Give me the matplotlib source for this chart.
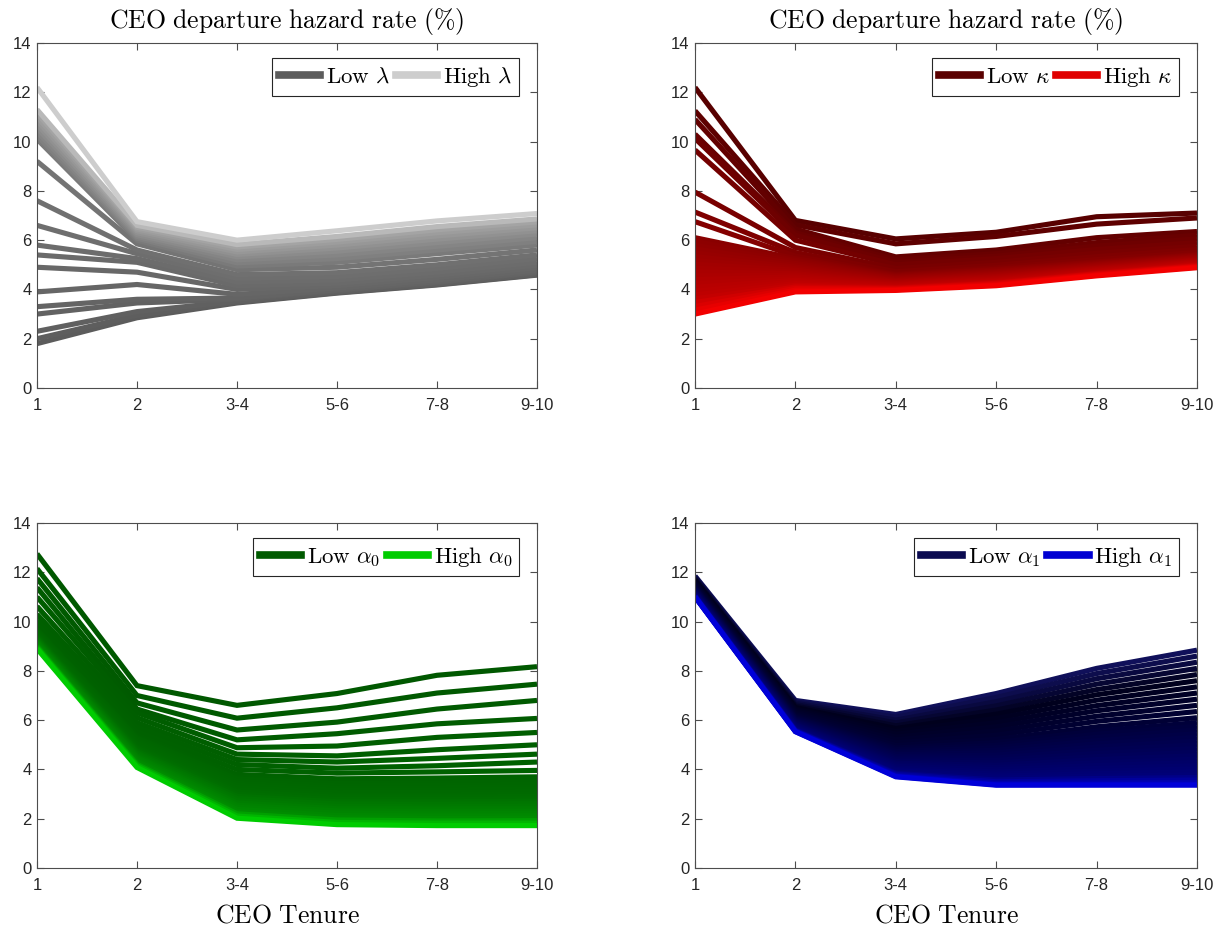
import matplotlib
matplotlib.use("Agg")
import matplotlib.pyplot as plt
from matplotlib.lines import Line2D
import numpy as np

plt.rcParams["mathtext.fontset"] = "cm"
plt.rcParams["font.family"] = ["Liberation Sans", "DejaVu Sans"]

# Tenure buckets on the horizontal axis
tenure_labels = ["1", "2", "3-4", "5-6", "7-8", "9-10"]

# Hazard-rate curves (%), one row per parameter value, ordered low -> high
hazard_lambda = [
    [1.80, 2.85, 3.45, 3.85, 4.18, 4.58],
    [2.00, 2.95, 3.48, 3.87, 4.20, 4.60],
    [2.30, 3.10, 3.52, 3.90, 4.23, 4.63],
    [3.00, 3.45, 3.60, 3.95, 4.28, 4.68],
    [3.30, 3.60, 3.65, 3.98, 4.31, 4.71],
    [3.90, 4.20, 3.80, 4.05, 4.38, 4.78],
    [4.90, 4.70, 4.00, 4.15, 4.48, 4.88],
    [5.40, 5.10, 4.15, 4.25, 4.58, 4.98],
    [5.80, 5.25, 4.30, 4.38, 4.70, 5.10],
    [6.60, 5.45, 4.45, 4.52, 4.85, 5.25],
    [7.60, 5.60, 4.60, 4.68, 5.00, 5.40],
    [9.20, 5.85, 4.80, 4.90, 5.22, 5.60],
    [10.10, 6.00, 4.95, 5.10, 5.45, 5.80],
    [10.25, 6.08, 5.08, 5.25, 5.60, 5.95],
    [10.40, 6.15, 5.20, 5.40, 5.75, 6.10],
    [10.55, 6.22, 5.32, 5.55, 5.90, 6.25],
    [10.70, 6.30, 5.42, 5.68, 6.04, 6.38],
    [10.85, 6.38, 5.52, 5.80, 6.17, 6.50],
    [11.00, 6.45, 5.62, 5.92, 6.30, 6.62],
    [11.15, 6.52, 5.72, 6.03, 6.42, 6.74],
    [11.30, 6.60, 5.82, 6.15, 6.55, 6.86],
    [12.20, 6.75, 6.00, 6.38, 6.78, 7.08],
]

hazard_kappa = [
    [12.20, 6.80, 6.05, 6.32, 6.95, 7.10],
    [11.25, 6.62, 5.85, 6.15, 6.65, 6.90],
    [10.90, 6.45, 5.32, 5.60, 6.10, 6.35],
    [10.30, 6.30, 5.20, 5.45, 5.90, 6.20],
    [10.13, 6.20, 5.10, 5.35, 5.76, 6.05],
    [9.66, 6.00, 5.00, 5.25, 5.62, 5.90],
    [7.95, 5.70, 4.85, 5.10, 5.47, 5.75],
    [7.14, 5.50, 4.72, 4.98, 5.33, 5.62],
    [6.75, 5.35, 4.62, 4.88, 5.21, 5.50],
    [6.10, 5.25, 4.58, 4.82, 5.12, 5.42],
    [5.95, 5.18, 4.55, 4.79, 5.09, 5.39],
    [5.79, 5.12, 4.52, 4.75, 5.06, 5.37],
    [5.64, 5.05, 4.49, 4.72, 5.03, 5.34],
    [5.48, 4.98, 4.46, 4.69, 5.01, 5.31],
    [5.33, 4.91, 4.43, 4.65, 4.98, 5.29],
    [5.17, 4.85, 4.39, 4.62, 4.95, 5.26],
    [5.02, 4.78, 4.36, 4.59, 4.92, 5.23],
    [4.86, 4.71, 4.33, 4.55, 4.89, 5.20],
    [4.71, 4.64, 4.30, 4.52, 4.86, 5.18],
    [4.55, 4.58, 4.27, 4.49, 4.84, 5.15],
    [4.40, 4.51, 4.24, 4.45, 4.81, 5.12],
    [4.24, 4.44, 4.21, 4.42, 4.78, 5.10],
    [4.09, 4.37, 4.18, 4.38, 4.75, 5.07],
    [3.93, 4.31, 4.15, 4.35, 4.72, 5.04],
    [3.78, 4.24, 4.11, 4.32, 4.69, 5.02],
    [3.62, 4.17, 4.08, 4.28, 4.66, 4.99],
    [3.47, 4.10, 4.05, 4.25, 4.64, 4.96],
    [3.31, 4.04, 4.02, 4.22, 4.61, 4.93],
    [3.16, 3.97, 3.99, 4.18, 4.58, 4.91],
    [3.00, 3.90, 3.96, 4.15, 4.55, 4.88],
]

hazard_alpha0 = [
    [12.75, 7.40, 6.60, 7.08, 7.82, 8.17],
    [12.15, 7.00, 6.08, 6.50, 7.10, 7.46],
    [11.75, 6.70, 5.60, 5.92, 6.45, 6.80],
    [11.38, 6.45, 5.20, 5.45, 5.85, 6.07],
    [11.00, 6.30, 4.88, 4.95, 5.30, 5.50],
    [10.62, 6.10, 4.62, 4.55, 4.80, 5.00],
    [10.30, 5.90, 4.40, 4.30, 4.45, 4.62],
    [10.05, 5.72, 4.20, 4.05, 4.15, 4.30],
    [9.90, 5.55, 4.00, 3.85, 3.90, 3.96],
    [9.75, 5.40, 3.80, 3.62, 3.65, 3.70],
    [9.71, 5.33, 3.71, 3.53, 3.55, 3.60],
    [9.67, 5.27, 3.62, 3.43, 3.46, 3.50],
    [9.62, 5.20, 3.53, 3.34, 3.36, 3.40],
    [9.58, 5.14, 3.44, 3.25, 3.26, 3.30],
    [9.54, 5.07, 3.36, 3.16, 3.17, 3.21],
    [9.50, 5.00, 3.27, 3.06, 3.07, 3.11],
    [9.45, 4.94, 3.18, 2.97, 2.97, 3.01],
    [9.41, 4.87, 3.09, 2.88, 2.88, 2.91],
    [9.37, 4.81, 3.00, 2.78, 2.78, 2.81],
    [9.33, 4.74, 2.91, 2.69, 2.69, 2.71],
    [9.28, 4.67, 2.82, 2.60, 2.59, 2.61],
    [9.24, 4.61, 2.73, 2.50, 2.49, 2.51],
    [9.20, 4.54, 2.64, 2.41, 2.40, 2.41],
    [9.16, 4.48, 2.55, 2.32, 2.30, 2.31],
    [9.11, 4.41, 2.47, 2.23, 2.20, 2.22],
    [9.07, 4.34, 2.38, 2.13, 2.11, 2.12],
    [9.03, 4.28, 2.29, 2.04, 2.01, 2.02],
    [8.99, 4.21, 2.20, 1.95, 1.91, 1.92],
    [8.94, 4.15, 2.11, 1.85, 1.82, 1.82],
    [8.90, 4.08, 2.02, 1.76, 1.72, 1.72],
]

hazard_alpha1 = [
    [11.85, 6.80, 6.23, 7.08, 8.10, 8.84],
    [11.81, 6.74, 6.12, 6.92, 7.89, 8.60],
    [11.77, 6.69, 6.00, 6.75, 7.68, 8.35],
    [11.74, 6.63, 5.89, 6.58, 7.46, 8.10],
    [11.70, 6.57, 5.77, 6.41, 7.24, 7.85],
    [11.66, 6.51, 5.66, 6.24, 7.03, 7.60],
    [11.62, 6.45, 5.54, 6.07, 6.81, 7.35],
    [11.58, 6.40, 5.43, 5.90, 6.59, 7.10],
    [11.54, 6.34, 5.31, 5.73, 6.38, 6.85],
    [11.50, 6.28, 5.20, 5.56, 6.16, 6.60],
    [11.46, 6.22, 5.08, 5.39, 5.95, 6.35],
    [11.43, 6.17, 4.97, 5.22, 5.73, 6.10],
    [11.39, 6.12, 4.87, 5.09, 5.56, 5.90],
    [11.37, 6.08, 4.80, 4.98, 5.43, 5.75],
    [11.35, 6.05, 4.73, 4.88, 5.30, 5.60],
    [11.32, 6.01, 4.66, 4.78, 5.17, 5.45],
    [11.30, 5.98, 4.60, 4.68, 5.04, 5.30],
    [11.28, 5.95, 4.53, 4.58, 4.91, 5.15],
    [11.25, 5.91, 4.46, 4.47, 4.78, 5.00],
    [11.23, 5.88, 4.39, 4.37, 4.65, 4.85],
    [11.21, 5.84, 4.32, 4.27, 4.52, 4.70],
    [11.19, 5.81, 4.25, 4.17, 4.40, 4.56],
    [11.16, 5.78, 4.19, 4.08, 4.27, 4.42],
    [11.14, 5.74, 4.13, 3.99, 4.16, 4.28],
    [11.12, 5.71, 4.06, 3.90, 4.04, 4.15],
    [11.10, 5.68, 4.00, 3.81, 3.93, 4.02],
    [11.08, 5.66, 3.95, 3.73, 3.83, 3.90],
    [11.07, 5.63, 3.89, 3.65, 3.73, 3.78],
    [11.05, 5.60, 3.84, 3.57, 3.63, 3.67],
    [11.03, 5.58, 3.80, 3.50, 3.54, 3.57],
    [11.02, 5.56, 3.75, 3.43, 3.45, 3.47],
    [11.01, 5.54, 3.72, 3.38, 3.39, 3.40],
    [11.00, 5.53, 3.70, 3.36, 3.36, 3.36],
]

param_names = [r"\lambda", r"\kappa", r"\alpha_0", r"\alpha_1"]

# Legend end colours and the ramp used across each family of curves
panels = [
    dict(data=hazard_lambda, low="#5c5c5c", high="#cdcdcd",
         ramp=[(0.0, "#5c5c5c"), (0.5, "#717171"), (0.9, "#a2a2a2"), (1.0, "#cdcdcd")]),
    dict(data=hazard_kappa, low="#5a0000", high="#e00000",
         ramp=[(0.0, "#580000"), (0.3, "#880000"), (0.85, "#c00000"), (1.0, "#f20000")]),
    dict(data=hazard_alpha0, low="#005a00", high="#00cc00",
         ramp=[(0.0, "#005800"), (0.6, "#006c00"), (0.9, "#008c00"), (1.0, "#00cc00")]),
    dict(data=hazard_alpha1, low="#0a0a50", high="#0000d2",
         ramp=[(0.0, "#10105a"), (0.15, "#00001c"), (0.85, "#000078"), (1.0, "#0000d8")]),
]

W, H = 1226, 934
fig = plt.figure(figsize=(W / 100, H / 100), dpi=100)

col_left = [37, 695]
col_width = [500, 502]
row_top = [43, 523]
ax_h = 345

text_color = "#262626"
spine_color = "#4d4d4d"


def hex_rgb(h):
    h = h.lstrip("#")
    return np.array([int(h[i:i + 2], 16) / 255 for i in (0, 2, 4)])


def ramp_color(ramp, t):
    for (t0, c0), (t1, c1) in zip(ramp[:-1], ramp[1:]):
        if t <= t1:
            s = (t - t0) / (t1 - t0)
            a, b = hex_rgb(c0), hex_rgb(c1)
            return tuple(a + (b - a) * s)
    return tuple(hex_rgb(ramp[-1][1]))


x = np.arange(len(tenure_labels))

for k, spec in enumerate(panels):
    r, c = divmod(k, 2)
    left = col_left[c] / W
    bottom = 1 - (row_top[r] + ax_h) / H
    ax = fig.add_axes([left, bottom, col_width[c] / W, ax_h / H])

    curves = spec["data"]
    n = len(curves)
    for i, yv in enumerate(curves):
        ax.plot(x, yv, color=ramp_color(spec["ramp"], i / (n - 1)),
                lw=3.7, solid_joinstyle="miter", solid_capstyle="butt")

    ax.set_xlim(0, len(tenure_labels) - 1)
    ax.set_ylim(0, 14)
    ax.set_xticks(x)
    ax.set_xticklabels(tenure_labels)
    ax.set_yticks(np.arange(0, 15, 2))
    ax.tick_params(direction="in", length=5, width=0.8, top=True, right=True,
                   labelsize=12, colors=spine_color, labelcolor=text_color)
    ax.tick_params(axis="x", pad=7)
    ax.tick_params(axis="y", pad=4)
    for sp in ax.spines.values():
        sp.set_color(spine_color)
        sp.set_linewidth(0.8)

    name = param_names[k]
    handles = [Line2D([], [], color=spec["low"], lw=5.5),
               Line2D([], [], color=spec["high"], lw=5.5)]
    labels = [r"$\mathrm{Low}\ %s$" % name, r"$\mathrm{High}\ %s$" % name]
    aw = col_width[c]
    leg = ax.legend(handles, labels, loc="upper right", ncol=2, fontsize=16.5,
                    bbox_to_anchor=(1 - 18 / aw, 1 - 15 / ax_h),
                    frameon=True, fancybox=False, edgecolor="#262626",
                    handlelength=1.8, handletextpad=0.25, columnspacing=0.3,
                    borderpad=0.3, borderaxespad=0.0, framealpha=1)
    leg.get_frame().set_linewidth(0.8)

    if r == 0:
        ax.set_title(r"$\mathrm{CEO\ departure\ hazard\ rate\ (\%)}$",
                     fontsize=18.5, pad=11, color="black")
    else:
        ax.set_xlabel(r"$\mathrm{CEO\ Tenure}$", fontsize=18.5, labelpad=8,
                      color="black")

fig.savefig("out.png", dpi=100)
